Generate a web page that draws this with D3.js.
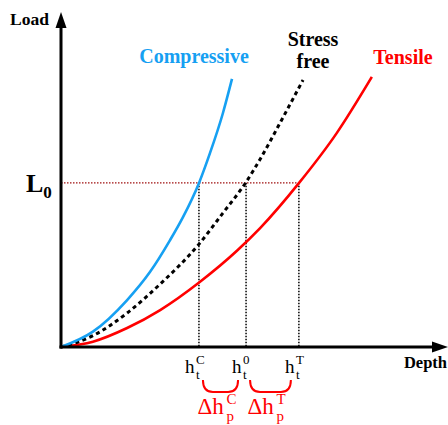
<!DOCTYPE html>
<html>
<head>
<meta charset="utf-8">
<script src="https://cdn.jsdelivr.net/npm/d3@7"></script>
<style>
  body { margin: 0; background: #fff; }
  text { font-family: "Liberation Serif", "Times New Roman", serif; }
</style>
</head>
<body>
<div id="chart"></div>
<script>
// curves (arbitrary depth / load units, 0-100)
var compDepth = [0, 8.4, 17.4, 23.4, 28.7, 32.1, 36.3, 39.2, 42.6, 45.0];
var compLoad  = [0, 4.6, 14.1, 22.5, 32.1, 39.0, 49.2, 58.2, 70.2, 80.5];

var freeDepth = [0, 8.4, 17.4, 26.1, 36.1, 42.6, 48.7, 52.4, 58.4, 63.7];
var freeLoad  = [0, 3.4, 10.2, 18.9, 30.6, 40.2, 49.5, 56.4, 68.9, 80.2];

var tensDepth = [0, 8.4, 17.4, 26.1, 36.6, 46.3, 52.4, 62.6, 72.6, 81.8];
var tensLoad  = [0, 1.6, 5.7, 11.1, 19.6, 28.9, 35.7, 49.2, 64.3, 81.1];

var L0 = 49.3;
var hDepths = [36.3, 48.7, 62.6];   // h_t^C, h_t^0, h_t^T
var hSups = ["C", "0", "T"];
var dhSups = ["C", "T"];

var width = 448, height = 425;
var svg = d3.select("#chart").append("svg")
    .attr("width", width)
    .attr("height", height);

var x = d3.scaleLinear().domain([0, 100]).range([61, 441]);
var y = d3.scaleLinear().domain([0, 100]).range([347, 14]);

var line = d3.line()
    .x(function(d) { return x(d[0]); })
    .y(function(d) { return y(d[1]); })
    .curve(d3.curveMonotoneX);

// L0 guide
svg.append("line")
    .attr("x1", x(0)).attr("x2", x(hDepths[2]))
    .attr("y1", y(L0)).attr("y2", y(L0))
    .attr("stroke", "#a01010")
    .attr("stroke-width", 1.3)
    .attr("stroke-dasharray", "1.5,1.5");

svg.selectAll(".vguide")
    .data(hDepths)
    .enter()
    .append("line")
    .attr("x1", function(d) { return x(d); })
    .attr("x2", function(d) { return x(d); })
    .attr("y1", y(L0))
    .attr("y2", y(0))
    .attr("stroke", "#000")
    .attr("stroke-width", 1.5)
    .attr("stroke-dasharray", "1.5,1.5");

// curves
svg.append("path")
    .datum(d3.zip(tensDepth, tensLoad))
    .attr("d", line)
    .attr("fill", "none")
    .attr("stroke", "#ff0000")
    .attr("stroke-width", 2.6);

svg.append("path")
    .datum(d3.zip(freeDepth, freeLoad))
    .attr("d", line)
    .attr("fill", "none")
    .attr("stroke", "#000")
    .attr("stroke-width", 3)
    .attr("stroke-dasharray", "4,3.5");

svg.append("path")
    .datum(d3.zip(compDepth, compLoad))
    .attr("d", line)
    .attr("fill", "none")
    .attr("stroke", "#16a0f2")
    .attr("stroke-width", 2.6);

// axes with arrows
svg.append("line")
    .attr("x1", x(0)).attr("x2", x(0))
    .attr("y1", y(0) + 1.5).attr("y2", 24)
    .attr("stroke", "#000").attr("stroke-width", 3);
svg.append("path")
    .attr("d", "M" + x(0) + ",12 L" + (x(0) - 5.5) + ",28 L" + (x(0) + 5.5) + ",28 Z")
    .attr("fill", "#000");

svg.append("line")
    .attr("x1", x(0) - 1.5).attr("x2", 436)
    .attr("y1", y(0)).attr("y2", y(0))
    .attr("stroke", "#000").attr("stroke-width", 3);
svg.append("path")
    .attr("d", "M448," + y(0) + " L432," + (y(0) - 5.5) + " L432," + (y(0) + 5.5) + " Z")
    .attr("fill", "#000");

// axis titles
svg.append("text")
    .attr("x", 10).attr("y", 25)
    .style("font-weight", "bold").style("font-size", "17.5px")
    .text("Load");

svg.append("text")
    .attr("x", 447).attr("y", 368)
    .attr("text-anchor", "end")
    .style("font-weight", "bold").style("font-size", "16.5px")
    .text("Depth");

var l0 = svg.append("text")
    .attr("x", 26).attr("y", 192)
    .style("font-weight", "bold").style("font-size", "26px");
l0.append("tspan").text("L");
l0.append("tspan").attr("dy", 6).style("font-size", "17px").text("0");

// series labels
svg.append("text")
    .attr("x", 194).attr("y", 63)
    .attr("text-anchor", "middle")
    .attr("fill", "#16a0f2")
    .style("font-weight", "bold").style("font-size", "20px")
    .text("Compressive");

svg.append("text")
    .attr("x", 313).attr("y", 46)
    .attr("text-anchor", "middle")
    .style("font-weight", "bold").style("font-size", "20px")
    .text("Stress");
svg.append("text")
    .attr("x", 313).attr("y", 68)
    .attr("text-anchor", "middle")
    .style("font-weight", "bold").style("font-size", "20px")
    .text("free");

svg.append("text")
    .attr("x", 403).attr("y", 64)
    .attr("text-anchor", "middle")
    .attr("fill", "#ff0000")
    .style("font-weight", "bold").style("font-size", "20px")
    .text("Tensile");

// h_t labels under the axis
var hl = svg.selectAll(".hlab")
    .data(hDepths)
    .enter()
    .append("g")
    .attr("transform", function(d) { return "translate(" + (x(d) - 14) + ",373)"; });
hl.append("text")
    .style("font-size", "19px")
    .text("h");
hl.append("text")
    .attr("x", 11).attr("y", -9)
    .style("font-size", "13px")
    .text(function(d, i) { return hSups[i]; });
hl.append("text")
    .attr("x", 11).attr("y", 6)
    .style("font-size", "13px")
    .text("t");

// red braces between labels
var braces = [[hDepths[0], hDepths[1]], [hDepths[1], hDepths[2]]];
svg.selectAll(".brace")
    .data(braces)
    .enter()
    .append("path")
    .attr("d", function(d) {
        var a = x(d[0]) + 4, b = x(d[1]) - 8, t = 380, bt = 392;
        return "M" + a + "," + t + " Q" + a + "," + bt + " " + (a + 10) + "," + bt +
               " L" + (b - 10) + "," + bt + " Q" + b + "," + bt + " " + b + "," + t;
    })
    .attr("fill", "none")
    .attr("stroke", "#ff0000")
    .attr("stroke-width", 2);

var dl = svg.selectAll(".dlab")
    .data(braces)
    .enter()
    .append("g")
    .attr("transform", function(d) { return "translate(" + ((x(d[0]) + x(d[1])) / 2 - 25) + ",414)"; })
    .attr("fill", "#ff0000");
dl.append("text")
    .style("font-size", "23px")
    .text("\u0394h");
dl.append("text")
    .attr("x", 29).attr("y", -10)
    .style("font-size", "15px")
    .text(function(d, i) { return dhSups[i]; });
dl.append("text")
    .attr("x", 29).attr("y", 7)
    .style("font-size", "15px")
    .text("p");
</script>
</body>
</html>
